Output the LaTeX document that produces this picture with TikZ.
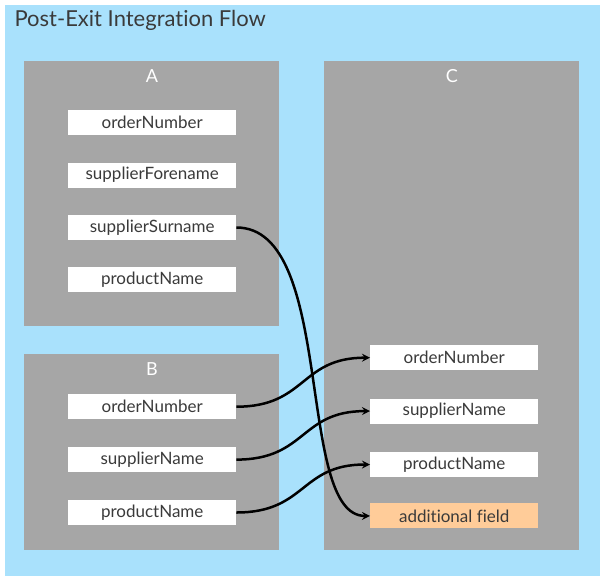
\documentclass[tikz,border=0pt]{standalone}
\usepackage{fontspec}
\setmainfont{Lato}[Ligatures={NoCommon,NoRare,NoDiscretionary}]
\usetikzlibrary{positioning}
\definecolor{flowbg}{HTML}{A9E1FC}
\definecolor{panelgray}{HTML}{A6A6A6}
\definecolor{fieldtext}{HTML}{3A3A3A}
\definecolor{extrafield}{HTML}{FFCC99}
\tikzset{
  panel/.style={fill=panelgray,anchor=north west,inner sep=0pt},
  paneltitle/.style={text=white,font=\fontsize{18}{20}\selectfont},
  field/.style={fill=white,minimum width=168pt,minimum height=25pt,inner sep=0pt,text=fieldtext,font=\fontsize{17}{19}\selectfont},
  flow/.style={-stealth,line width=2.5pt}
}
\begin{document}
\begin{tikzpicture}[x=1pt,y=-1pt]
	\useasboundingbox (0,0) rectangle (604,581);
	\fill[flowbg] (5,5) rectangle (600,576);
	\node[anchor=west,text=fieldtext,font=\fontsize{22}{24}\selectfont] (title) at (11,20) {Post-Exit Integration Flow};
	
	% A
	\node[panel,minimum width=255pt,minimum height=265pt] (pa) at (24,61) {};
	\node[paneltitle] (ta) at (152,76) {A};
	\node[field,anchor=north west] (a1) at (68,110) {orderNumber};
	\node[field,below=27pt of a1] (a2) {supplierForename};
	\node[field,below=27pt of a2] (a3) {supplierSurname};
	\node[field,below=27pt of a3] (a4) {productName};
	
	% B
	\node[panel,minimum width=255pt,minimum height=196pt] (pb) at (24,354) {};
	\node[paneltitle] (tb) at (152,369) {B};
	\node[field,anchor=north west] (b1) at (68,394) {orderNumber};
	\node[field,below=27.5pt of b1] (b2) {supplierName};
	\node[field,below=27.5pt of b2] (b3) {productName};
	
	% C
	\node[panel,minimum width=255pt,minimum height=489pt] (pc) at (324,61) {};
	\node[paneltitle] (tc) at (452,76) {C};
	\node[field,anchor=north west] (c1) at (370,345) {orderNumber};
	\node[field,below=28pt of c1] (c2) {supplierName};
	\node[field,below=28pt of c2] (c3) {productName};
	\node[field,fill=extrafield,below=26pt of c3] (c4) {additional field};
	
	\draw[flow] (a3.east) .. controls +(100,0) and +(-75,0) .. (c4.west);
	\draw[flow] (b1.east) .. controls +(70,0) and +(-70,0) .. (c1.west);
	\draw[flow] (b2.east) .. controls +(70,0) and +(-70,0) .. (c2.west);
	\draw[flow] (b3.east) .. controls +(70,0) and +(-70,0) .. (c3.west);
\end{tikzpicture}
\end{document}
